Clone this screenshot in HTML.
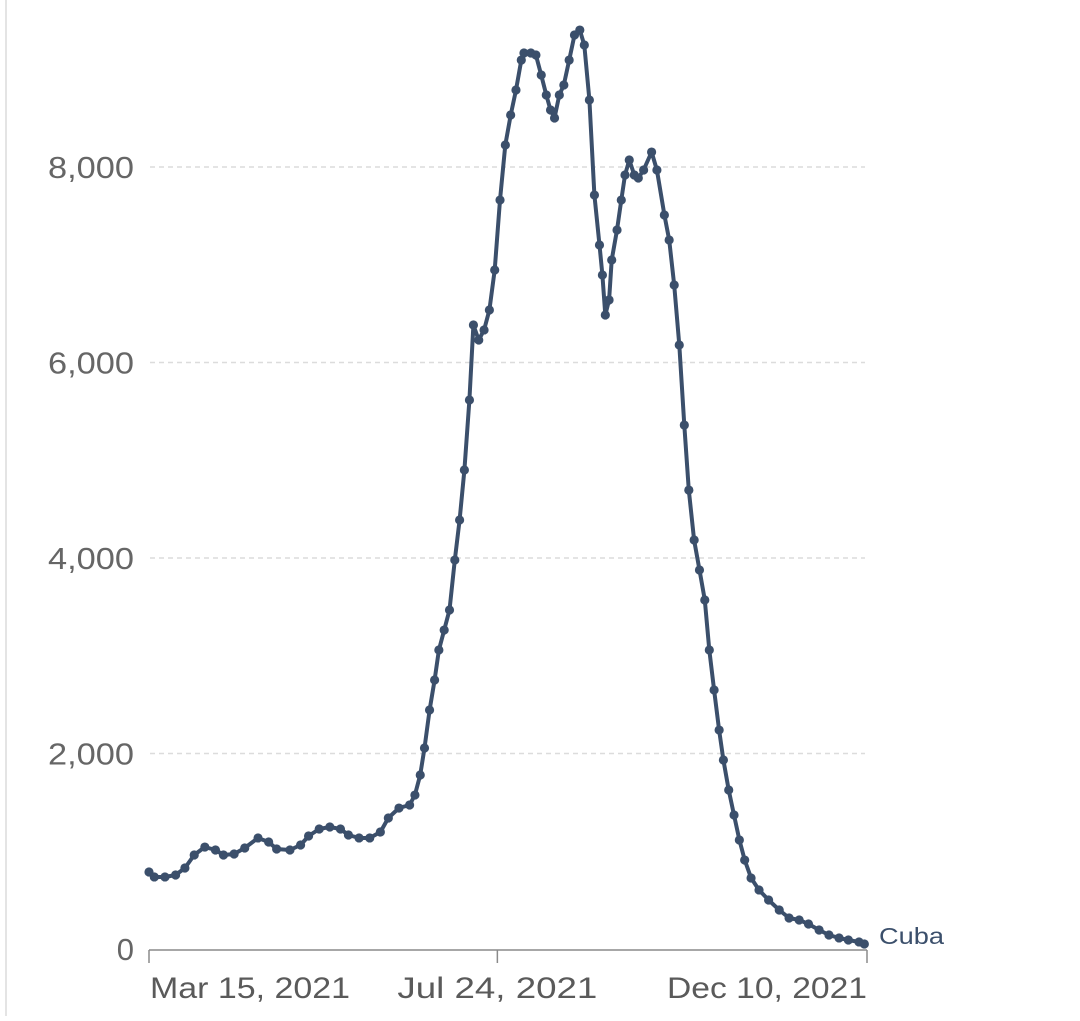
<!DOCTYPE html>
<html><head><meta charset="utf-8"><style>
html,body{margin:0;padding:0;background:#fff;}
svg text{font-family:"Liberation Sans",sans-serif;}
</style></head><body>
<svg width="1080" height="1016" viewBox="0 0 1080 1016" xmlns="http://www.w3.org/2000/svg">
<line x1="6" y1="0" x2="6" y2="1016" stroke="#e4e4e4" stroke-width="2"/>
<g id="grid"></g>
<g id="yticks"></g>
<g id="xaxis"></g>
<g id="series"></g>
<text x="879" y="944" font-size="23" fill="#3b4f6b" textLength="65" lengthAdjust="spacingAndGlyphs">Cuba</text>
</svg>
<script>
const days = [0,2,6,10,13.5,17,21,25,28,32,36,41,45,48,53,57,60,64,68,72,75,79,83,87,90,94,98,100,102,103.6,105.5,107.4,109,111,113,115,116.8,118.6,120.5,122,124,126,128,130,132,134,136,138,140,141,143.6,145.5,147.5,149.4,151,152.5,154.3,156,158,160,162,163.7,165.6,167.5,169.4,170.5,171.6,173,174,176,177.6,179,180.6,182.5,184,186,189,191,193.8,195.6,197.5,199.4,201.3,203,205,207,209,210.7,212.5,214.4,216,218,220,222,224,226.4,229.4,233,237,240.7,244.5,248,252,255.7,259.5,263,267,269];
const values = [788,737,737,757,829,962,1043,1013,962,972,1033,1136,1095,1023,1013,1064,1156,1228,1248,1228,1166,1136,1136,1197,1340,1442,1473,1575,1780,2056,2445,2752,3059,3263,3468,3979,4389,4900,5616,6384,6230,6333,6537,6946,7662,8225,8532,8788,9094,9166,9166,9146,8941,8737,8583,8501,8737,8839,9094,9350,9401,9248,8686,7713,7202,6895,6486,6640,7049,7356,7662,7918,8072,7918,7887,7969,8153,7969,7509,7253,6793,6179,5360,4695,4184,3877,3570,3059,2650,2240,1934,1627,1371,1115,910,726,604,501,399,317,297,256,194,143,113,92,72,51];
const yTicks = [0,2000,4000,6000,8000];
const yTickLabels = ["0","2,000","4,000","6,000","8,000"];
const xTickDays = [0,131,270];
const xTickLabels = ["Mar 15, 2021","Jul 24, 2021","Dec 10, 2021"];

const X0=149, X1=867, DMAX=270, Y0=949, YPER=0.09775;
const xs = d => X0 + d*(X1-X0)/DMAX;
const ys = v => Y0 - v*YPER;
const NS="http://www.w3.org/2000/svg";
function mk(tag, attrs, parent){const e=document.createElementNS(NS,tag);for(const k in attrs)e.setAttribute(k,attrs[k]);parent.appendChild(e);return e;}

const grid=document.getElementById('grid'), yt=document.getElementById('yticks');
yTicks.forEach((t,i)=>{
  if(t>0){
    const g=mk('line',{x1:150,x2:865,y1:ys(t),y2:ys(t),stroke:'#dcdcdc','stroke-width':1.5,'stroke-dasharray':'5,4'},grid);
    
    
  }
  const a={x:134,y:ys(t)+11,'font-size':31,fill:'#666','text-anchor':'end'};
  if(t>0){a.textLength=86;a.lengthAdjust='spacingAndGlyphs';}
  const tx=mk('text',a,yt);
  tx.textContent=yTickLabels[i];
  
  
});
const xa=document.getElementById('xaxis');
const al=mk('line',{x1:X0,x2:X1,y1:950,y2:950,stroke:'#8a8a8a','stroke-width':1.5},xa);


xTickDays.forEach((d,i)=>{
  const tk=mk('line',{x1:xs(d),x2:xs(d),y1:950,y2:963,stroke:'#8a8a8a','stroke-width':1.5},xa);
  
  
  const anchor = i===0?'start':(i===xTickDays.length-1?'end':'middle');
  const tx=mk('text',{x:xs(d)+(i===0?1:0),y:998,'font-size':30,fill:'#5a5a5a','text-anchor':anchor,textLength:200,lengthAdjust:'spacingAndGlyphs'},xa);
  tx.textContent=xTickLabels[i];
  
  
});
const s=document.getElementById('series');
const pts=days.map((d,i)=>xs(d).toFixed(1)+','+ys(values[i]).toFixed(1)).join(' ');
const pl=mk('polyline',{points:pts,fill:'none',stroke:'#3b4f6b','stroke-width':4,'stroke-linejoin':'round'},s);


days.forEach((d,i)=>{
  const c=mk('circle',{cx:xs(d),cy:ys(values[i]),r:4.6,fill:'#3b4f6b'},s);
  
  
});
</script>
</body></html>
